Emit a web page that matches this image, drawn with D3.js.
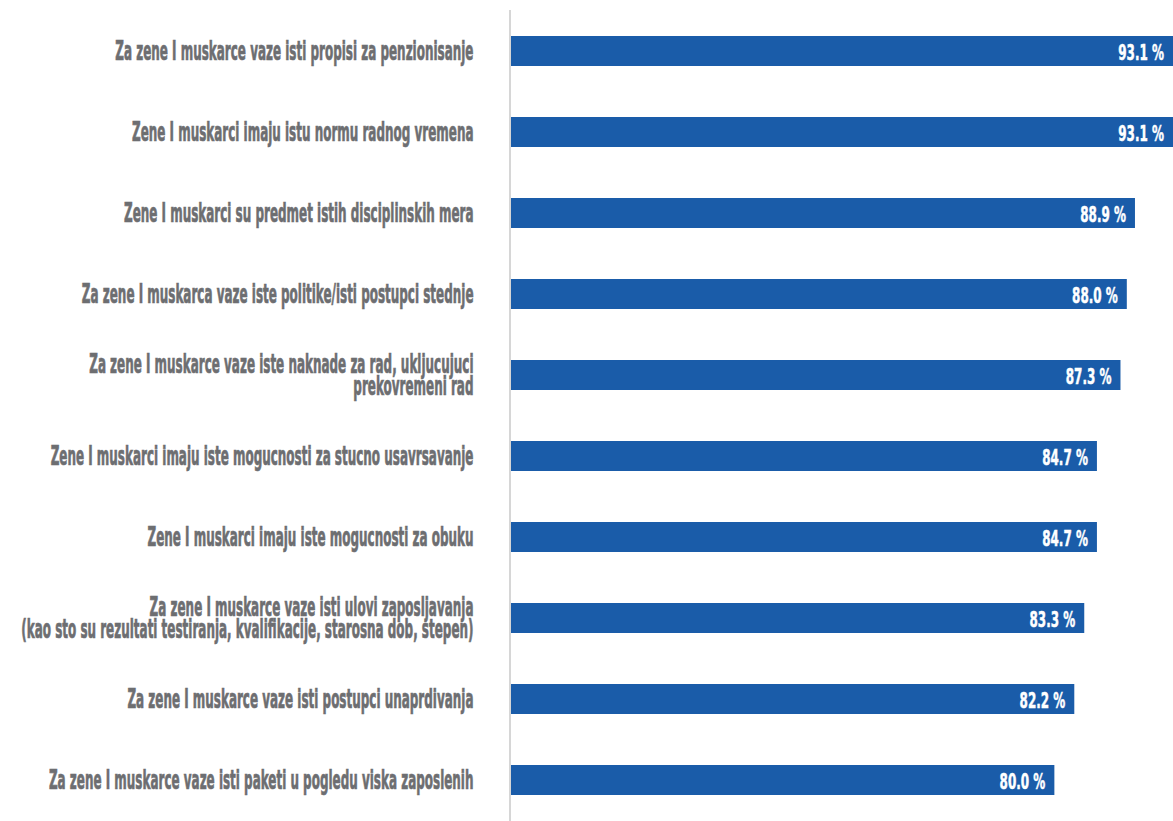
<!DOCTYPE html>
<html>
<head>
<meta charset="utf-8">
<script src="https://cdn.jsdelivr.net/npm/d3@7"></script>
<style>
  html, body { margin: 0; padding: 0; background: #ffffff; }
  svg { display: block; }
</style>
</head>
<body>
<svg id="chart" width="1173" height="821"></svg>
<script>
// Survey statements (one array entry per line of the wrapped label)
const categories = [
  ["Za zene I muskarce vaze isti propisi za penzionisanje"],
  ["Zene I muskarci imaju istu normu radnog vremena"],
  ["Zene I muskarci su predmet istih disciplinskih mera"],
  ["Za zene I muskarca vaze iste politike/isti postupci stednje"],
  ["Za zene I muskarce vaze iste naknade za rad, ukljucujuci", "prekovremeni rad"],
  ["Zene I muskarci imaju iste mogucnosti za stucno usavrsavanje"],
  ["Zene I muskarci imaju iste mogucnosti za obuku"],
  ["Za zene I muskarce vaze isti ulovi zaposljavanja", "(kao sto su rezultati testiranja, kvalifikacije, starosna dob, stepen)"],
  ["Za zene I muskarce vaze isti postupci unaprdivanja"],
  ["Za zene I muskarce vaze isti paketi u pogledu viska zaposlenih"]
];

// Share of respondents who agree, in percent
const values = [93.1, 93.1, 88.9, 88.0, 87.3, 84.7, 84.7, 83.3, 82.2, 80.0];

// Text printed inside each bar
const valueLabels = ["93.1 %", "93.1 %", "88.9 %", "88.0 %", "87.3 %", "84.7 %", "84.7 %", "83.3 %", "82.2 %", "80.0 %"];

const W = 1173, H = 821;
const axisX = 510;
const barColor = "#1a5ca9";
const labelColor = "#6d6e71";
const labelFont = "'DejaVu Sans Condensed', 'DejaVu Sans', 'Liberation Sans Narrow', sans-serif";

const svg = d3.select("#chart");

const x = d3.scaleLinear()
  .domain([20, 93.1])
  .range([axisX + 1, W]);

const p = 51 / 81;
const y = d3.scaleBand()
  .domain(d3.range(values.length))
  .range([10.5, 10.5 + 810])
  .paddingInner(p)
  .paddingOuter(p / 2);

const rows = values.map((v, i) => ({ v, i, lines: categories[i], label: valueLabels[i] }));

// Bars
svg.append("g")
  .selectAll("rect")
  .data(rows)
  .join("rect")
  .attr("x", x(20))
  .attr("y", d => y(d.i))
  .attr("width", d => x(d.v) - x(20))
  .attr("height", y.bandwidth())
  .attr("fill", barColor);

// Vertical baseline
svg.append("line")
  .attr("x1", axisX).attr("x2", axisX)
  .attr("y1", 10).attr("y2", H)
  .attr("stroke", "#cccccc")
  .attr("stroke-width", 1.6);

// Category labels, right aligned against the baseline (condensed horizontally)
const lineH = 22;
const labelScaleX = 0.512;
const lab = svg.append("g")
  .selectAll("text")
  .data(rows)
  .join("text")
  .attr("transform", d => {
    const cy = y(d.i) + y.bandwidth() / 2;
    return `translate(473.5,${cy}) scale(${labelScaleX},1)`;
  })
  .attr("text-anchor", "end")
  .attr("font-family", labelFont)
  .attr("font-weight", "bold")
  .attr("font-size", 26)
  .attr("fill", labelColor)
  .attr("stroke", labelColor)
  .attr("stroke-width", 0.7);

lab.selectAll("tspan")
  .data(d => d.lines.map((t, k) => ({ t, k, n: d.lines.length })))
  .join("tspan")
  .attr("x", 0)
  .attr("y", d => (d.k - (d.n - 1) / 2) * lineH)
  .attr("dy", "0.36em")
  .text(d => d.t);

// Value labels inside the bars
svg.append("g")
  .selectAll("text")
  .data(rows)
  .join("text")
  .attr("transform", d => `translate(${x(d.v) - 9},${y(d.i) + y.bandwidth() / 2 + 1}) scale(0.62,1)`)
  .attr("text-anchor", "end")
  .attr("dy", "0.36em")
  .attr("font-family", labelFont)
  .attr("font-weight", "bold")
  .attr("font-size", 21.5)
  .attr("fill", "#ffffff")
  .attr("stroke", "#ffffff")
  .attr("stroke-width", 0.5)
  .text(d => d.label);
</script>
</body>
</html>
